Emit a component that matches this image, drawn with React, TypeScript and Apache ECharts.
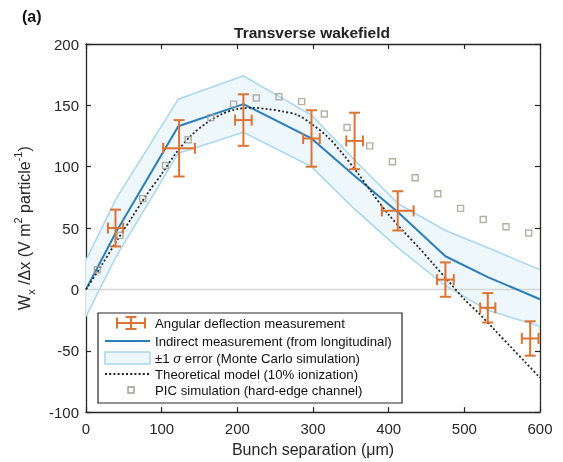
import React, { useEffect, useRef } from "react";
import * as echarts from "echarts";

// Angular deflection measurement (error bars)
const measX = [39, 123, 208, 298, 355, 412, 475, 531, 587];
const measY = [50, 115, 138, 123, 121, 64, 8, -15, -40];
const measXErr = [10, 21, 11, 11, 11, 21, 11, 10, 11];
const measYErr = [15, 23, 21, 23, 23, 16, 14, 12, 14];

// Indirect measurement (from longitudinal) and ±1σ band
const indirectX = [0, 40, 122, 208, 298, 354, 412, 475, 531, 600];
const indirectY = [0, 47, 133, 151, 123, 93, 63, 27, 10, -8];
const bandUpper = [24, 74, 155, 174, 142, 106, 70, 48, 34, 16];
const bandLower = [-22, 27, 111, 128, 100, 66, 34, 3, -17, -30];

// Theoretical model (10% ionization)
const theoryX = [0, 20, 40, 60, 80, 100, 120, 140, 160, 180, 200, 220, 240, 260, 280, 300, 320, 340, 360, 380, 400, 420, 440, 460, 480, 500, 520, 540, 560, 580, 600];
const theoryY = [0, 19, 39, 58, 77, 94, 112, 126, 136, 143, 147, 148, 147, 145, 142, 134, 124, 110, 94, 77, 61, 47, 34, 20, 6, -8, -20, -33, -46, -59, -72];

// PIC simulation (hard-edge channel)
const picX = [15, 45, 75, 105, 135, 165, 195, 225, 255, 285, 315, 345, 375, 405, 435, 465, 495, 525, 555, 585];
const picY = [16, 44, 74, 101, 122, 140, 151, 156, 157, 153, 143, 132, 117, 104, 91, 78, 66, 57, 51, 46];

const xTicks = [0, 100, 200, 300, 400, 500, 600];
const yTicks = [-100, -50, 0, 50, 100, 150, 200];

const legendLabels = [
  "Angular deflection measurement",
  "Indirect measurement (from longitudinal)",
  "±1 {i|σ} error (Monte Carlo simulation)",
  "Theoretical model (10% ionization)",
  "PIC simulation (hard-edge channel)",
];

const FONT = "'Liberation Sans', Arial, Helvetica, sans-serif";
const AX = "#262626";
const ORANGE = "#DF7230";
const BLUE = "#2B7DBB";
const BAND_FILL = "#EEF7FC";
const BAND_EDGE = "#A8D7EF";
const PIC = "#A29B8D";

export default function App() {
  const ref = useRef<HTMLDivElement>(null);
  useEffect(() => {
    const chart = echarts.init(ref.current!, null, { renderer: "svg" });
    const axisCommon = {
      type: "value" as const,
      axisLine: { show: true, onZero: false, lineStyle: { color: AX, width: 1.3 } },
      axisTick: { show: true, inside: true, length: 5, lineStyle: { color: AX, width: 1.2 } },
      splitLine: { show: false },
    };
    const errData = measX.map((x, i) => [x, measY[i], measXErr[i], measYErr[i]]);
    const cap = 5.5;
    const legendTop = 313;
    const rowY = [323, 341, 358, 374, 390];
    const lgIconL = 105;
    const lgIconR = 150;
    const lgIconC = 131;
    const LFS = 13.2;
    const option: any = {
      animation: false,
      textStyle: { fontFamily: FONT },
      grid: { left: 86, right: 23, top: 44, bottom: 47 },
      xAxis: [
        {
          ...axisCommon,
          min: xTicks[0],
          max: xTicks[xTicks.length - 1],
          interval: 100,
          position: "bottom",
          axisLabel: { fontSize: 15, color: AX, margin: 9, fontFamily: FONT },
          name: "Bunch separation (μm)",
          nameLocation: "middle",
          nameGap: 27,
          nameTextStyle: { fontSize: 16, color: AX, fontFamily: FONT },
        },
        {
          ...axisCommon,
          min: xTicks[0],
          max: xTicks[xTicks.length - 1],
          interval: 100,
          position: "top",
          axisLabel: { show: false },
        },
      ],
      yAxis: [
        {
          ...axisCommon,
          min: yTicks[0],
          max: yTicks[yTicks.length - 1],
          interval: 50,
          position: "left",
          axisLabel: { fontSize: 15, color: AX, margin: 7, fontFamily: FONT },
          name: "{n|W}{sub|x}{n| /Δx (V m}{sup|2}{n| particle}{sup|-1}{n|)}",
          nameLocation: "middle",
          nameGap: 50,
          nameRotate: 90,
          nameTextStyle: {
            color: AX,
            fontFamily: FONT,
            rich: {
              n: { fontSize: 16, color: AX, fontFamily: FONT, lineHeight: 24, verticalAlign: "middle" },
              sub: { fontSize: 11, color: AX, fontFamily: FONT, lineHeight: 24, verticalAlign: "bottom" },
              sup: { fontSize: 11, color: AX, fontFamily: FONT, lineHeight: 24, verticalAlign: "top" },
            },
          },
        },
        {
          ...axisCommon,
          min: yTicks[0],
          max: yTicks[yTicks.length - 1],
          interval: 50,
          position: "right",
          axisLabel: { show: false },
        },
      ],
      series: [
        {
          type: "custom",
          name: "band",
          clip: true,
          z: 1,
          data: [[0, 0]],
          encode: { x: 0, y: 1 },
          renderItem: (_params: any, api: any) => {
            const up = indirectX.map((x, i) => api.coord([x, bandUpper[i]]));
            const lo = indirectX.map((x, i) => api.coord([x, bandLower[i]]));
            return {
              type: "group",
              children: [
                { type: "polygon", shape: { points: up.concat(lo.slice().reverse()) }, style: { fill: BAND_FILL, stroke: "none" } },
                { type: "polyline", shape: { points: up }, style: { fill: "none", stroke: BAND_EDGE, lineWidth: 1.5 } },
                { type: "polyline", shape: { points: lo }, style: { fill: "none", stroke: BAND_EDGE, lineWidth: 1.5 } },
              ],
            };
          },
        },
        {
          type: "line",
          name: "zero",
          z: 2,
          symbol: "none",
          data: [[0, 0], [600, 0]],
          lineStyle: { color: "#D6D6D6", width: 1.5 },
        },
        {
          type: "line",
          name: "Indirect",
          z: 3,
          symbol: "none",
          data: indirectX.map((x, i) => [x, indirectY[i]]),
          lineStyle: { color: BLUE, width: 2 },
        },
        {
          type: "line",
          name: "Theory",
          z: 4,
          symbol: "none",
          smooth: 0.3,
          data: theoryX.map((x, i) => [x, theoryY[i]]),
          lineStyle: { color: AX, width: 1.8, type: [2, 2.2] },
        },
        {
          type: "scatter",
          name: "PIC",
          z: 5,
          symbol: "rect",
          symbolSize: 6,
          data: picX.map((x, i) => [x, picY[i]]),
          itemStyle: { color: "rgba(255,255,255,0)", borderColor: PIC, borderWidth: 1.4 },
        },
        {
          type: "custom",
          name: "Angular",
          z: 6,
          data: errData,
          encode: { x: 0, y: 1 },
          renderItem: (_params: any, api: any) => {
            const x = api.value(0);
            const y = api.value(1);
            const xe = api.value(2);
            const ye = api.value(3);
            const c = api.coord([x, y]);
            const top = api.coord([x, y + ye]);
            const bot = api.coord([x, y - ye]);
            const left = api.coord([x - xe, y]);
            const right = api.coord([x + xe, y]);
            const st = { stroke: ORANGE, lineWidth: 2, fill: "none" };
            const ln = (x1: number, y1: number, x2: number, y2: number) => ({
              type: "line",
              shape: { x1, y1, x2, y2 },
              style: st,
            });
            return {
              type: "group",
              children: [
                ln(top[0], top[1], bot[0], bot[1]),
                ln(top[0] - cap, top[1], top[0] + cap, top[1]),
                ln(bot[0] - cap, bot[1], bot[0] + cap, bot[1]),
                ln(left[0], c[1], right[0], c[1]),
                ln(left[0], c[1] - cap, left[0], c[1] + cap),
                ln(right[0], c[1] - cap, right[0], c[1] + cap),
              ],
            };
          },
        },
      ],
      graphic: [
        {
          type: "text",
          left: 22,
          top: 8,
          style: { text: "(a)", font: `bold 16px ${FONT}`, fill: "#111" },
        },
        {
          type: "text",
          x: 312,
          y: 32,
          style: {
            text: "Transverse wakefield",
            font: `bold 15.5px ${FONT}`,
            fill: "#222",
            textAlign: "center",
            textVerticalAlign: "middle",
            align: "center",
            verticalAlign: "middle",
          },
        },
        {
          type: "group",
          z: 100,
          children: [
            {
              type: "rect",
              shape: { x: 98, y: legendTop, width: 304, height: 90 },
              style: { fill: "#fff", stroke: AX, lineWidth: 1.2 },
            },
            // error bar icon
            { type: "line", shape: { x1: lgIconC - 14, y1: rowY[0], x2: lgIconC + 14, y2: rowY[0] }, style: { stroke: ORANGE, lineWidth: 2 } },
            { type: "line", shape: { x1: lgIconC - 14, y1: rowY[0] - cap, x2: lgIconC - 14, y2: rowY[0] + cap }, style: { stroke: ORANGE, lineWidth: 2 } },
            { type: "line", shape: { x1: lgIconC + 14, y1: rowY[0] - cap, x2: lgIconC + 14, y2: rowY[0] + cap }, style: { stroke: ORANGE, lineWidth: 2 } },
            { type: "line", shape: { x1: lgIconC, y1: rowY[0] - 6, x2: lgIconC, y2: rowY[0] + 6 }, style: { stroke: ORANGE, lineWidth: 2 } },
            { type: "line", shape: { x1: lgIconC - cap, y1: rowY[0] - 6, x2: lgIconC + cap, y2: rowY[0] - 6 }, style: { stroke: ORANGE, lineWidth: 2 } },
            { type: "line", shape: { x1: lgIconC - cap, y1: rowY[0] + 6, x2: lgIconC + cap, y2: rowY[0] + 6 }, style: { stroke: ORANGE, lineWidth: 2 } },
            // blue line
            { type: "line", shape: { x1: lgIconL, y1: rowY[1], x2: lgIconR, y2: rowY[1] }, style: { stroke: BLUE, lineWidth: 2 } },
            // band
            { type: "rect", shape: { x: lgIconL, y: rowY[2] - 6, width: lgIconR - lgIconL, height: 12 }, style: { fill: BAND_FILL, stroke: BAND_EDGE, lineWidth: 1.5 } },
            // dotted
            { type: "line", shape: { x1: lgIconL, y1: rowY[3], x2: lgIconR, y2: rowY[3] }, style: { stroke: AX, lineWidth: 1.8, lineDash: [2, 2.2] } },
            // PIC square
            { type: "rect", shape: { x: lgIconC - 3, y: rowY[4] - 3, width: 6, height: 6 }, style: { fill: "#fff", stroke: PIC, lineWidth: 1.4 } },
            ...legendLabels.map((t, i) => ({
              type: "text",
              x: 155,
              y: rowY[i],
              style: {
                text: t,
                font: `${LFS}px ${FONT}`,
                fill: "#111",
                textVerticalAlign: "middle",
                verticalAlign: "middle",
                rich: {
                  i: { fontStyle: "italic", fontSize: LFS, fontFamily: FONT, fill: "#111" },
                },
              },
            })),
          ],
        },
      ],
    };
    chart.setOption(option);
    return () => chart.dispose();
  }, []);
  return <div ref={ref} style={{ position: "fixed", left: 0, top: 0, width: 563, height: 462 }} />;
}
